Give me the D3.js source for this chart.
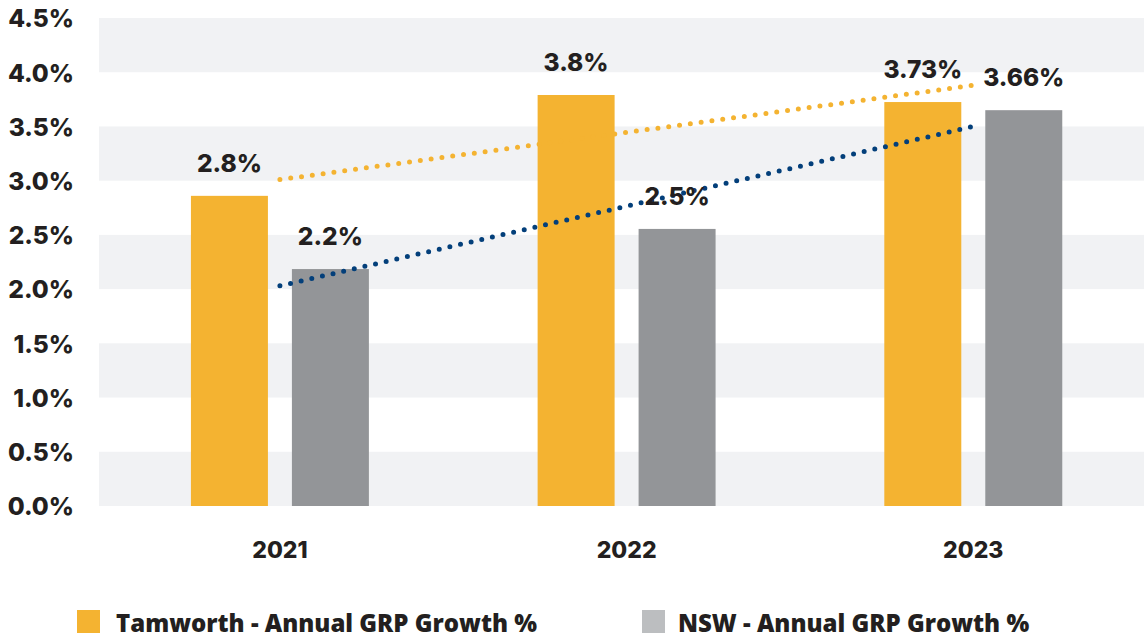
<!DOCTYPE html>
<html>
<head>
<meta charset="utf-8">
<script src="https://cdn.jsdelivr.net/npm/d3@7"></script>
<style>
  body { margin: 0; background: #fff; }
  svg text { fill: #231f20; }
</style>
</head>
<body>
<svg id="chart"></svg>
<script>
var years = ["2021", "2022", "2023"];
var seriesNames = ["Tamworth - Annual GRP Growth %", "NSW - Annual GRP Growth %"];
var tamworth = [2.86, 3.79, 3.725];
var nsw = [2.185, 2.555, 3.65];
var tamworthLabels = ["2.8%", "3.8%", "3.73%"];
var nswLabels = ["2.2%", "2.5%", "3.66%"];
var tamworthTrend = [3.01, 3.88];   // 2021 -> 2023
var nswTrend = [2.03, 3.50];
var yTicks = [0, 0.5, 1, 1.5, 2, 2.5, 3, 3.5, 4, 4.5];

var colors = ["#f4b331", "#939598"];
var legendColors = ["#f4b331", "#bcbec0"];
var trendColors = ["#f4b331", "#033f7a"];

var width = 1144;
var height = 638;
var plotLeft = 99;

var svg = d3.select("#chart")
    .attr("width", width)
    .attr("height", height);

var y = d3.scaleLinear()
    .domain([0, 4.5])
    .range([506, 18]);

var x0 = d3.scaleBand()
    .domain(years)
    .range([22.2, 1231])
    .paddingInner(0.4867)
    .paddingOuter(0.4867);

var x1 = d3.scaleBand()
    .domain([0, 1])
    .range([0, x0.bandwidth()])
    .paddingInner(0.2376);

// alternating background bands
svg.append("g")
    .selectAll("rect")
    .data(yTicks.filter((d, i) => i % 2 == 0 && d < 4.5))
    .enter()
    .append("rect")
        .attr("x", plotLeft)
        .attr("width", width - plotLeft)
        .attr("y", d => y(d + 0.5))
        .attr("height", d => y(d) - y(d + 0.5))
        .attr("fill", "#f1f2f4");

// y axis
var yAxis = svg.append("g")
    .attr("transform", "translate(74,0)")
    .call(d3.axisLeft(y).tickValues(yTicks).tickSize(0).tickPadding(0)
        .tickFormat(d => d.toFixed(1) + "%"));
yAxis.select(".domain").remove();
yAxis.selectAll("text")
    .attr("dy", "0.36em")
    .style("font-family", "Inter")
    .style("font-weight", 800)
    .style("font-size", "24.5px")
    .style("fill", "#231f20");

// x axis
var xAxis = svg.append("g")
    .attr("transform", "translate(0,506)")
    .call(d3.axisBottom(x0).tickSize(0).tickPadding(0));
xAxis.select(".domain").remove();
xAxis.selectAll("text")
    .attr("y", 52)
    .attr("dy", 0)
    .style("font-family", "Inter")
    .style("font-weight", 800)
    .style("font-size", "23px")
    .style("fill", "#231f20");

// bars
var barData = [];
years.forEach((yr, i) => {
    barData.push({year: yr, s: 0, value: tamworth[i], label: tamworthLabels[i]});
    barData.push({year: yr, s: 1, value: nsw[i], label: nswLabels[i]});
});

svg.append("g")
    .selectAll("rect")
    .data(barData)
    .enter()
    .append("rect")
        .attr("x", d => x0(d.year) + x1(d.s))
        .attr("width", x1.bandwidth())
        .attr("y", d => y(d.value))
        .attr("height", d => y(0) - y(d.value))
        .attr("fill", d => colors[d.s]);

// dotted trend lines
var trends = [tamworthTrend, nswTrend];
var line = d3.line()
    .x(d => x0(d.year) + x0.bandwidth() / 2)
    .y(d => y(d.value));

svg.append("g")
    .selectAll("path")
    .data(trends)
    .enter()
    .append("path")
        .attr("d", d => line([{year: years[0], value: d[0]}, {year: years[2], value: d[1]}]))
        .attr("fill", "none")
        .attr("stroke", (d, i) => trendColors[i])
        .attr("stroke-width", 5)
        .attr("stroke-linecap", "round")
        .attr("stroke-dasharray", "0 10.9");

// value labels
svg.append("g")
    .selectAll("text")
    .data(barData)
    .enter()
    .append("text")
        .attr("x", d => x0(d.year) + x1(d.s) + x1.bandwidth() / 2)
        .attr("y", d => y(d.value) - 24)
        .attr("text-anchor", "middle")
        .style("font-family", "Inter")
        .style("font-weight", 800)
        .style("font-size", "24.5px")
        .text(d => d.label);

// legend
var legendX = [77, 642];
var legend = svg.append("g")
    .selectAll("g")
    .data(seriesNames)
    .enter()
    .append("g")
        .attr("transform", (d, i) => "translate(" + legendX[i] + ",610)");

legend.append("rect")
    .attr("width", 23)
    .attr("height", 23)
    .attr("fill", (d, i) => legendColors[i]);

legend.append("text")
    .attr("x", (d, i) => i == 0 ? 39 : 36)
    .attr("y", 22)
    .style("font-family", "Open Sans")
    .style("font-weight", 800)
    .style("font-size", "24px")
    .text(d => d);
</script>
</body>
</html>
